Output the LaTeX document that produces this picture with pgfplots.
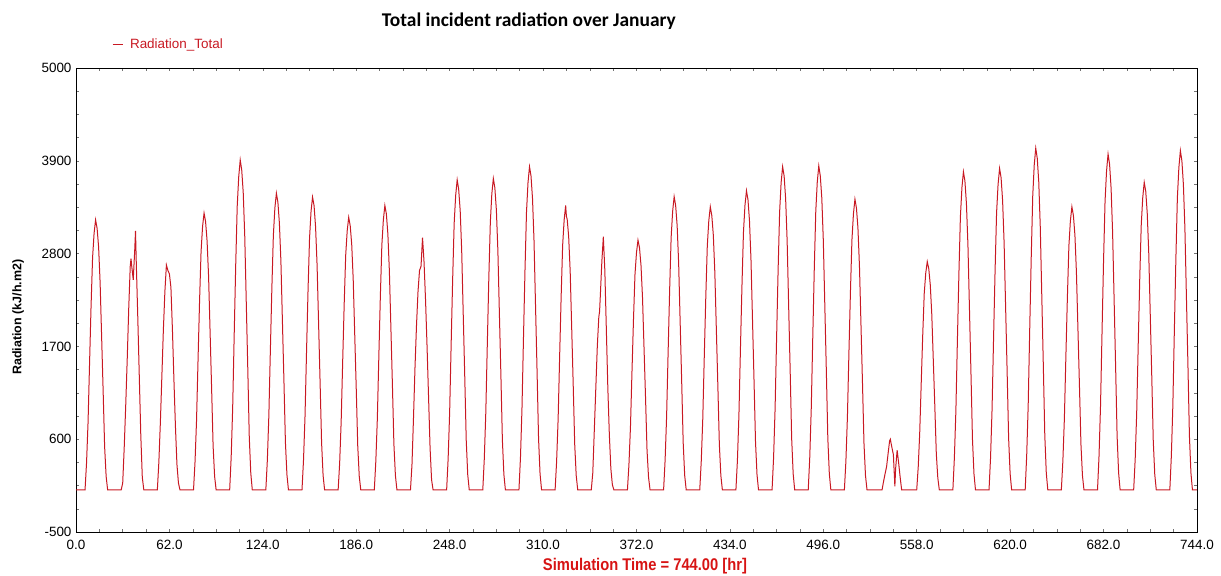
\documentclass[border=0pt]{standalone}
\usepackage{fontspec}
\setmainfont{Liberation Sans}
\newfontfamily\titlefont{Carlito}
\usepackage{graphicx}
\usepackage{pgfplots}
\pgfplotsset{compat=1.18}
\definecolor{radred}{RGB}{200,25,35}
\definecolor{labred}{RGB}{215,20,20}
\begin{document}
\begin{tikzpicture}
\useasboundingbox (0,0) rectangle (1221bp,576bp);
\begin{axis}[
 at={(76bp,44bp)}, anchor=south west,
 scale only axis, width=1121bp, height=464bp,
 xmin=0, xmax=744, ymin=-500, ymax=5000,
 xtick={0,62,...,744}, ytick={-500,600,1700,2800,3900,5000},
 minor x tick num=3, minor y tick num=3,
 scaled x ticks=false, scaled y ticks=false,
 tick align=inside, major tick length=3bp, minor tick length=3bp,
 tick style={color=black!55, line width=0.5bp},
 axis line style={black, line width=0.9bp},
 ticklabel style={font=\fontsize{13.5}{15}\selectfont, /pgf/number format/assume math mode=true},
 xticklabel style={yshift=-5bp, /pgf/number format/fixed, /pgf/number format/fixed zerofill, /pgf/number format/precision=1},
 yticklabel style={xshift=-1bp, /pgf/number format/1000 sep={}},
 ylabel={\bfseries Radiation (kJ/h.m2)},
 ylabel style={at={(rel axis cs:-0.0517,0.463)}, anchor=center, font=\fontsize{12.5}{14}\selectfont},
 xlabel={\scalebox{0.87}[1]{\bfseries Simulation Time = 744.00 [hr]}},
 xlabel style={at={(rel axis cs:0.5076,-0.0733)}, anchor=center, font=\fontsize{17}{19}\selectfont, text=labred},
 title={\titlefont\bfseries Total incident radiation over January},
 title style={at={(0.404,1.088)}, anchor=base, yshift=-5bp, font=\fontsize{19.5}{22}\selectfont},
 legend style={at={(0.032,1.050)}, anchor=west, draw=none, fill=none, font=\fontsize{13.5}{15}\selectfont, text=radred, inner sep=0pt},
 legend image code/.code={\draw[#1] (0bp,0bp) -- (10bp,0bp);},
]
\addplot[radred, line width=1bp] coordinates {
(0,0) (6,0) (7,320) (8,800) (9,1500) (10,2180) (11,2750) (12,3040) (13,3200) (14,3100) (15,2880) (16,2460) (17,1820) (18,1180) (19,510) (20,160) (21,0)
(30,0) (31,80) (32,500) (33,1000) (34,1550) (35,2150) (36,2650) (36.5,2740) (37,2650) (38,2490) (39,2850) (39.5,3070) (40,2700) (41,2050) (42,1350) (43,650) (44,150) (45,0)
(54,0) (55,330) (56,800) (57,1350) (58,1900) (59,2350) (60,2665) (61,2600) (62,2560) (63,2400) (64,1900) (65,1300) (66,750) (67,300) (68,80) (69,0)
(78,0) (79,330) (80,820) (81,1540) (82,2230) (83,2820) (84,3120) (85,3280) (86,3180) (87,2950) (88,2530) (89,1870) (90,1210) (91,520) (92,160) (93,0)
(102,0) (103,390) (104,980) (105,1840) (106,2660) (107,3360) (108,3710) (109,3910) (110,3790) (111,3520) (112,3010) (113,2230) (114,1450) (115,630) (116,200) (117,0)
(126,0) (127,350) (128,880) (129,1650) (130,2390) (131,3020) (132,3340) (133,3515) (134,3410) (135,3160) (136,2710) (137,2000) (138,1300) (139,560) (140,180) (141,0)
(150,0) (151,350) (152,870) (153,1630) (154,2360) (155,2980) (156,3300) (157,3470) (158,3370) (159,3120) (160,2670) (161,1980) (162,1280) (163,560) (164,170) (165,0)
(174,0) (175,320) (176,810) (177,1520) (178,2200) (179,2780) (180,3070) (181,3230) (182,3130) (183,2910) (184,2490) (185,1840) (186,1200) (187,520) (188,160) (189,0)
(198,0) (199,340) (200,840) (201,1580) (202,2290) (203,2900) (204,3200) (205,3370) (206,3270) (207,3030) (208,2590) (209,1920) (210,1250) (211,540) (212,170) (213,0)
(222,0) (223,300) (224,850) (225,1450) (226,1950) (227,2350) (228,2600) (229,2650) (230,2990) (231,2700) (232,2250) (233,1700) (234,1100) (235,500) (236,120) (237,0)
(246,0) (247,370) (248,920) (249,1730) (250,2500) (251,3160) (252,3490) (253,3675) (254,3560) (255,3310) (256,2830) (257,2090) (258,1360) (259,590) (260,180) (261,0)
(270,0) (271,370) (272,920) (273,1730) (274,2510) (275,3170) (276,3510) (277,3690) (278,3580) (279,3320) (280,2840) (281,2100) (282,1370) (283,590) (284,180) (285,0)
(294,0) (295,380) (296,960) (297,1800) (298,2600) (299,3290) (300,3640) (301,3830) (302,3720) (303,3450) (304,2950) (305,2180) (306,1420) (307,610) (308,190) (309,0)
(318,0) (319,340) (320,840) (321,1580) (322,2290) (323,2900) (324,3200) (325,3370) (325.5,3240) (326,3210) (327,3000) (328,2590) (329,1920) (330,1250) (331,540) (332,170) (333,0)
(342,0) (343,200) (344,700) (345,1200) (346,1700) (347,2050) (347.5,2110) (348,2300) (349,2700) (350,3000) (351,2600) (352,1900) (353,1200) (354,650) (355,250) (356,60) (357,0)
(366,0) (367,300) (368,740) (369,1390) (370,2010) (371,2550) (372,2810) (373,2960) (374,2870) (375,2660) (376,2280) (377,1690) (378,1100) (379,470) (380,150) (381,0)
(390,0) (391,350) (392,870) (393,1630) (394,2360) (395,2990) (396,3300) (397,3475) (398,3370) (399,3130) (400,2680) (401,1980) (402,1290) (403,560) (404,170) (405,0)
(414,0) (415,340) (416,840) (417,1580) (418,2280) (419,2890) (420,3190) (421,3355) (422,3250) (423,3020) (424,2580) (425,1910) (426,1240) (427,540) (428,170) (429,0)
(438,0) (439,350) (440,890) (441,1670) (442,2410) (443,3050) (444,3370) (445,3545) (446,3440) (447,3190) (448,2730) (449,2020) (450,1310) (451,570) (452,180) (453,0)
(462,0) (463,380) (464,960) (465,1800) (466,2600) (467,3290) (468,3640) (469,3830) (470,3720) (471,3450) (472,2950) (473,2180) (474,1420) (475,610) (476,190) (477,0)
(486,0) (487,380) (488,960) (489,1800) (490,2610) (491,3300) (492,3650) (493,3840) (494,3720) (495,3460) (496,2960) (497,2190) (498,1420) (499,610) (500,190) (501,0)
(510,0) (511,340) (512,860) (513,1620) (514,2340) (515,2960) (516,3270) (517,3445) (518,3340) (519,3100) (520,2650) (521,1960) (522,1270) (523,550) (524,170) (525,0)
(535,0) (536,100) (537,190) (538,274) (539,430) (540,580) (540.5,600) (541,550) (542,460) (542.5,420) (543.5,40) (544,250) (545,470) (546,320) (547,150) (548,0)
(558,0) (559,270) (560,680) (561,1270) (562,1840) (563,2330) (564,2570) (565,2705) (566,2620) (567,2430) (568,2080) (569,1540) (570,1000) (571,430) (572,140) (573,0)
(582,0) (583,380) (584,940) (585,1770) (586,2560) (587,3240) (588,3580) (589,3770) (590,3660) (591,3390) (592,2900) (593,2150) (594,1390) (595,600) (596,190) (597,0)
(606,0) (607,380) (608,950) (609,1790) (610,2590) (611,3280) (612,3620) (613,3810) (614,3700) (615,3430) (616,2930) (617,2170) (618,1410) (619,610) (620,190) (621,0)
(630,0) (631,410) (632,1010) (633,1900) (634,2750) (635,3480) (636,3850) (637,4050) (638,3930) (639,3650) (640,3120) (641,2310) (642,1500) (643,650) (644,200) (645,0)
(654,0) (655,340) (656,840) (657,1580) (658,2280) (659,2890) (660,3190) (661,3355) (662,3250) (663,3020) (664,2580) (665,1910) (666,1240) (667,540) (668,170) (669,0)
(678,0) (679,400) (680,1000) (681,1870) (682,2710) (683,3420) (684,3780) (685,3980) (686,3860) (687,3580) (688,3060) (689,2270) (690,1470) (691,640) (692,200) (693,0)
(702,0) (703,360) (704,910) (705,1710) (706,2480) (707,3130) (708,3460) (709,3645) (710,3540) (711,3280) (712,2810) (713,2080) (714,1350) (715,580) (716,180) (717,0)
(726,0) (727,400) (728,1000) (729,1890) (730,2730) (731,3460) (732,3820) (733,4020) (734,3900) (735,3620) (736,3100) (737,2290) (738,1490) (739,640) (740,200) (741,0) (744,0)
};
\addlegendentry{\hspace{5bp}Radiation\_Total}
\end{axis}
\end{tikzpicture}
\end{document}
